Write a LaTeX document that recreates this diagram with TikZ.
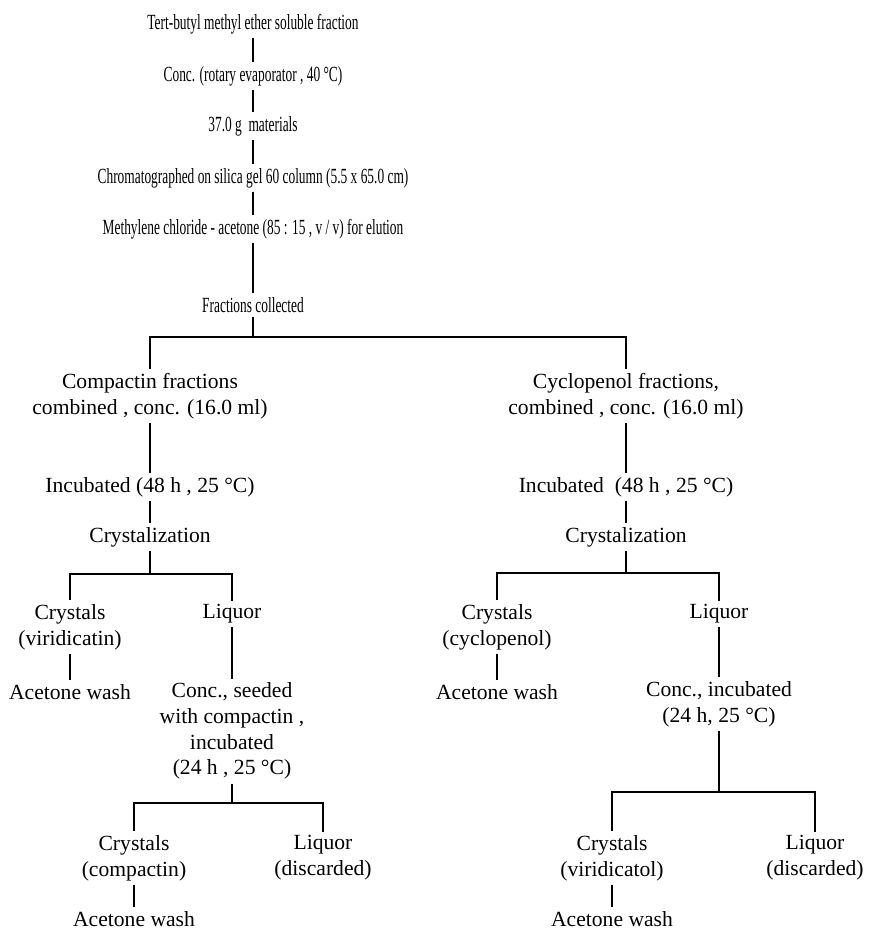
\documentclass[tikz,border=0pt]{standalone}
\usepackage{fontspec}
\setmainfont{Liberation Serif}
\newfontfamily\condfont[FakeStretch=0.62]{Liberation Serif}
\usetikzlibrary{arrows.meta}

\begin{document}
\begin{tikzpicture}[
  x=0.02cm,y=-0.02cm,
  txt/.style={font=\fontsize{12.3}{14.7}\selectfont,align=center,inner sep=1.5pt},
  hdr/.style={txt,font=\condfont\fontsize{12.3}{14.7}\selectfont},
  line width=1.5pt
]
\useasboundingbox (0,0) rectangle (870,932);
% main column
\node[hdr] (tbme)  at (253,24)  {Tert-butyl methyl ether soluble fraction};
\node[hdr] (rot)   at (253,76)  {Conc. (rotary evaporator , 40 °C)};
\node[hdr] (mat)   at (253,126) {37.0 g\ \ materials};
\node[hdr] (chrom) at (253,178) {Chromatographed on silica gel 60 column (5.5 x 65.0 cm)};
\node[hdr] (elu)   at (253,229) {Methylene chloride - acetone (85 : 15 , v / v) for elution};
\node[hdr] (frac)  at (253,305) {Fractions collected};
% compactin branch
\node[txt] (cmp)  at (150,396) {Compactin fractions\\combined , conc. (16.0 ml)};
\node[txt] (inc1) at (150,487) {Incubated (48 h , 25 °C)};
\node[txt] (cry1) at (150,537) {Crystalization};
\node[txt] (xvin) at (70,627)  {Crystals\\(viridicatin)};
\node[txt] (lq1)  at (232,614) {Liquor};
\node[txt] (aw1)  at (70,692)  {Acetone wash};
\node[txt] (seed) at (232,731) {Conc., seeded\\with compactin ,\\incubated\\(24 h , 25 °C)};
\node[txt] (xcom) at (134,858) {Crystals\\(compactin)};
\node[txt] (lq3)  at (323,858) {Liquor\\(discarded)};
\node[txt] (aw3)  at (134,919) {Acetone wash};
% cyclopenol branch
\node[txt] (cyc)  at (626,396) {Cyclopenol fractions,\\combined , conc. (16.0 ml)};
\node[txt] (inc2) at (626,487) {Incubated\ \ (48 h , 25 °C)};
\node[txt] (cry2) at (626,537) {Crystalization};
\node[txt] (xcyc) at (497,627) {Crystals\\(cyclopenol)};
\node[txt] (lq2)  at (719,614) {Liquor};
\node[txt] (aw2)  at (497,692) {Acetone wash};
\node[txt] (incb) at (719,704) {Conc., incubated\\(24 h, 25 °C)};
\node[txt] (xvol) at (612,858) {Crystals\\(viridicatol)};
\node[txt] (lq4)  at (815,858) {Liquor\\(discarded)};
\node[txt] (aw4)  at (612,919) {Acetone wash};
% junctions
\coordinate (j0) at (253,337);
\coordinate (j1) at (150,574);
\coordinate (j2) at (626,573);
\coordinate (j3) at (232,803);
\coordinate (j4) at (719,792);
\draw (tbme) -- (rot); \draw (rot) -- (mat); \draw (mat) -- (chrom);
\draw (chrom) -- (elu); \draw (elu) -- (frac);
\draw (frac) -- (j0); \draw (cmp) |- (j0) -| (cyc);
\draw (cmp) -- (inc1); \draw (inc1) -- (cry1); \draw (cry1) -- (j1);
\draw (xvin) |- (j1) -| (lq1); \draw (xvin) -- (aw1); \draw (lq1) -- (seed);
\draw (seed) -- (j3); \draw (xcom) |- (j3) -| (lq3); \draw (xcom) -- (aw3);
\draw (cyc) -- (inc2); \draw (inc2) -- (cry2); \draw (cry2) -- (j2);
\draw (xcyc) |- (j2) -| (lq2); \draw (xcyc) -- (aw2); \draw (lq2) -- (incb);
\draw (incb) -- (j4); \draw (xvol) |- (j4) -| (lq4); \draw (xvol) -- (aw4);
\end{tikzpicture}
\end{document}
